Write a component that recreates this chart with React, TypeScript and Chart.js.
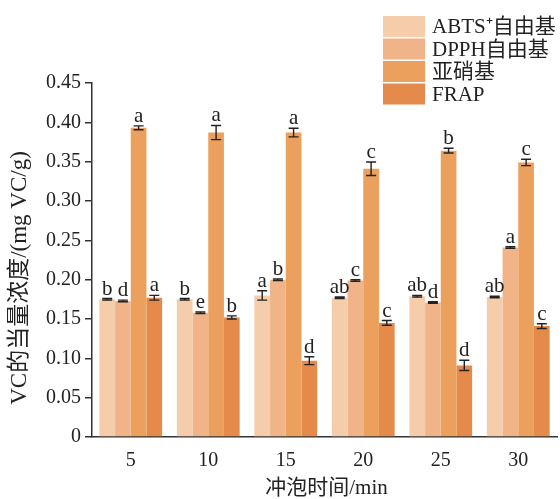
import React, { useEffect, useRef } from "react";
import { Chart, registerables } from "chart.js";

Chart.register(...registerables);

const categories = ["5", "10", "15", "20", "25", "30"];
const seriesNames = ["ABTS⁺自由基", "DPPH自由基", "亚硝基", "FRAP"];
const colors = ["#F6CDAA", "#F0B488", "#EBA15D", "#E48A4B"];

const abts = [0.175, 0.175, 0.18, 0.177, 0.179, 0.178];
const dpph = [0.173, 0.158, 0.2, 0.199, 0.171, 0.241];
const nitrite = [0.393, 0.387, 0.387, 0.341, 0.364, 0.349];
const frap = [0.177, 0.152, 0.097, 0.145, 0.091, 0.141];

const abtsErr = [0.001, 0.001, 0.006, 0.001, 0.001, 0.001];
const dpphErr = [0.001, 0.001, 0.001, 0.001, 0.001, 0.001];
const nitriteErr = [0.0025, 0.009, 0.0055, 0.0085, 0.003, 0.004];
const frapErr = [0.003, 0.002, 0.005, 0.003, 0.0065, 0.003];

const abtsSig = ["b", "b", "a", "ab", "ab", "ab"];
const dpphSig = ["d", "e", "b", "c", "d", "a"];
const nitriteSig = ["a", "a", "a", "c", "b", "c"];
const frapSig = ["a", "b", "d", "c", "d", "c"];

const yTitle = "VC的当量浓度/(mg VC/g)";
const xTitle = "冲泡时间/min";

const values = [abts, dpph, nitrite, frap];
const errors = [abtsErr, dpphErr, nitriteErr, frapErr];
const sigs = [abtsSig, dpphSig, nitriteSig, frapSig];

const SERIF = "'Liberation Serif', 'Noto Sans CJK SC', serif";

const overlayPlugin = {
  id: "overlay",
  afterDatasetsDraw(chart: any) {
    const ctx = chart.ctx;
    const yScale = chart.scales.y;
    ctx.save();
    for (let i = 0; i < values.length; i++) {
      const meta = chart.getDatasetMeta(i);
      meta.data.forEach((bar: any, j: number) => {
        const v = values[i][j];
        const e = errors[i][j];
        const x = bar.x;
        const yTop = yScale.getPixelForValue(v + e);
        const yBot = yScale.getPixelForValue(v - e);
        ctx.strokeStyle = "#222";
        ctx.lineWidth = 1.4;
        ctx.beginPath();
        ctx.moveTo(x, yTop);
        ctx.lineTo(x, yBot);
        ctx.moveTo(x - 5, yTop);
        ctx.lineTo(x + 5, yTop);
        ctx.moveTo(x - 5, yBot);
        ctx.lineTo(x + 5, yBot);
        ctx.stroke();
        ctx.fillStyle = "#222";
        ctx.font = `21px ${SERIF}`;
        ctx.textAlign = "center";
        ctx.textBaseline = "alphabetic";
        ctx.fillText(sigs[i][j], x, yTop - 4);
      });
    }
    ctx.restore();
  },
  afterDraw(chart: any) {
    const ctx = chart.ctx;
    const area = chart.chartArea;
    ctx.save();
    const boxX = 383;
    const boxW = 42;
    const boxH = 21;
    const startY = 16;
    const step = 22.5;
    ctx.font = `21px ${SERIF}`;
    ctx.textAlign = "left";
    ctx.textBaseline = "middle";
    for (let i = 0; i < seriesNames.length; i++) {
      const y = startY + i * step;
      ctx.fillStyle = colors[i];
      ctx.fillRect(boxX, y, boxW, boxH);
      ctx.fillStyle = "#222";
      ctx.fillText(seriesNames[i], 432, y + boxH / 2 + 1);
    }
    ctx.fillStyle = "#222";
    ctx.font = `21px ${SERIF}`;
    ctx.textAlign = "center";
    ctx.textBaseline = "middle";
    ctx.fillText(xTitle, (area.left + area.right) / 2 + 2, 488);
    ctx.save();
    ctx.translate(20, 278);
    ctx.rotate(-Math.PI / 2);
    ctx.font = `23px ${SERIF}`;
    ctx.fillText(yTitle, 0, 0);
    ctx.restore();
    ctx.restore();
  },
};

export default function App() {
  const ref = useRef<HTMLCanvasElement | null>(null);
  useEffect(() => {
    if (!ref.current) return;
    const chart = new Chart(ref.current, {
      type: "bar",
      data: {
        labels: categories,
        datasets: values.map((vals, i) => ({
          label: seriesNames[i],
          data: vals,
          backgroundColor: colors[i],
          borderWidth: 0,
          categoryPercentage: 0.81,
          barPercentage: 1,
        })),
      },
      options: {
        animation: false,
        responsive: false,
        layout: { padding: { top: 83, right: 3, left: 0, bottom: 0 } },
        plugins: {
          legend: { display: false },
          tooltip: { enabled: false },
        },
        scales: {
          x: {
            grid: { display: false },
            border: { display: true, color: "#333", width: 1.5 },
            ticks: {
              color: "#222",
              font: { family: SERIF, size: 20 },
              padding: 4,
            },
            afterFit: (s: any) => {
              s.height = 62;
            },
          },
          y: {
            min: 0,
            max: 0.45,
            grid: {
              display: true,
              drawOnChartArea: false,
              drawTicks: true,
              tickLength: 7,
              color: "#333",
              lineWidth: 1.5,
            },
            border: { display: true, color: "#333", width: 1.5 },
            ticks: {
              stepSize: 0.05,
              color: "#222",
              font: { family: SERIF, size: 20 },
              padding: 4,
              callback: (v: any) => (Number(v) === 0 ? "0" : Number(v).toFixed(2)),
            },
            afterFit: (s: any) => {
              s.width = 92;
            },
          },
        },
      },
      plugins: [overlayPlugin],
    });
    return () => chart.destroy();
  }, []);
  return (
    <div style={{ position: "fixed", left: 0, top: 0, width: 560, height: 499, background: "#fff" }}>
      <canvas ref={ref} width={560} height={499} />
    </div>
  );
}
